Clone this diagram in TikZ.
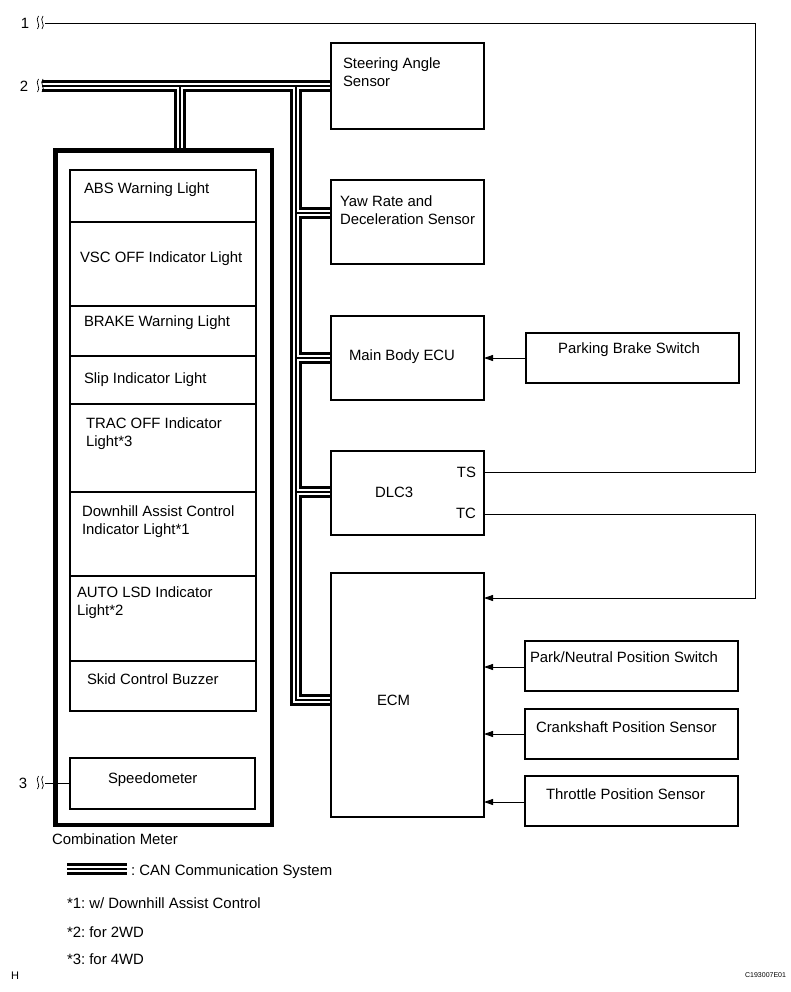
\documentclass[tikz,border=0pt]{standalone}
\usepackage{fontspec}
\setmainfont{Liberation Sans}
\usetikzlibrary{arrows.meta}
\frenchspacing
\begin{document}
\frenchspacing
\begin{tikzpicture}[x=1pt,y=-1pt,
  box/.style={draw, line width=1.3, inner sep=0, outer sep=0, anchor=north west},
  txt/.style={font=\fontsize{14.9}{17}\selectfont, inner sep=0, outer sep=0, text height=10.6pt, text depth=0pt, anchor=west},
  rtxt/.style={txt, anchor=east},
  wire/.style={line width=0.9},
  arr/.style={line width=0.9, -{Triangle[length=9pt,width=6pt]}},
  can/.style={line width=1.2, line join=miter, preaction={draw, black, line width=12}, preaction={draw, white, line width=6.5}},
  wavy/.style={line width=0.7}
]
\useasboundingbox[fill=white] (0,0) rectangle (791,992);

% ---------- CAN bus ----------
\coordinate (b2) at (42,86);
\coordinate (jm) at (180,86);
\coordinate (jt) at (296,86);
\coordinate (jy) at (296,213);
\coordinate (jb) at (296,358);
\coordinate (jd) at (296,492);
\coordinate (je) at (296,700);
\coordinate (cmtop) at (180,150);
\coordinate (legA) at (67,869);
\coordinate (legB) at (127,869);

% ---------- boxes ----------
\node[box, minimum width=153, minimum height=86] (sas) at (331,43) {};
\node[box, minimum width=153, minimum height=84] (yaw) at (331,180) {};
\node[box, minimum width=153, minimum height=84] (mbe) at (331,316) {};
\node[box, minimum width=153, minimum height=84] (dlc) at (331,451) {};
\node[box, minimum width=153, minimum height=244] (ecm) at (331,573) {};
\node[box, minimum width=213, minimum height=50] (pbs) at (526,333) {};
\node[box, minimum width=213, minimum height=50] (pns) at (525,641) {};
\node[box, minimum width=213, minimum height=50] (cps) at (525,709) {};
\node[box, minimum width=213, minimum height=50] (tps) at (525,776) {};

% bus
\draw[can] (b2) -- (b2 -| sas.west)
  (jm) -- (cmtop)
  (jt) -- (je) -- (je -| ecm.west)
  (jy) -- (jy -| yaw.west)
  (jb) -- (jb -| mbe.west)
  (jd) -- (jd -| dlc.west);
\draw[can] (legA) -- (legB);

% redraw box outlines over bus ends
\foreach \n in {sas,yaw,mbe,dlc,ecm} {\draw[line width=1.3] (\n.north west) rectangle (\n.south east);}

% ---------- combination meter ----------
\node[draw, line width=4.5, inner sep=0, outer sep=0, anchor=north west, minimum width=216.7, minimum height=674.5] (cm) at (55.3,150.5) {};
\node[box, minimum width=186, minimum height=52] (l1) at (70,170) {};
\node[box, minimum width=186, minimum height=84] (l2) at (70,222) {};
\node[box, minimum width=186, minimum height=50] (l3) at (70,306) {};
\node[box, minimum width=186, minimum height=48] (l4) at (70,356) {};
\node[box, minimum width=186, minimum height=88] (l5) at (70,404) {};
\node[box, minimum width=186, minimum height=84] (l6) at (70,492) {};
\node[box, minimum width=186, minimum height=85] (l7) at (70,576) {};
\node[box, minimum width=186, minimum height=50] (l8) at (70,661) {};
\node[box, minimum width=185, minimum height=51] (spd) at (70,758) {};

\node[txt] (t1) at (84,188) {ABS Warning Light};
\node[txt] (t2) at (80,257) {VSC OFF Indicator Light};
\node[txt] (t3) at (84,321) {BRAKE Warning Light};
\node[txt] (t4) at (84,378) {Slip Indicator Light};
\node[txt] (t5a) at (86,423) {TRAC OFF Indicator};
\node[txt] (t5b) at (86,441) {Light*3};
\node[txt] (t6a) at (82,511) {Downhill Assist Control};
\node[txt] (t6b) at (82,529) {Indicator Light*1};
\node[txt] (t7a) at (77,592) {AUTO LSD Indicator};
\node[txt] (t7b) at (77,610) {Light*2};
\node[txt] (t8) at (87,679) {Skid Control Buzzer};
\node[txt] (t9) at (108,778) {Speedometer};
\node[txt] (cmname) at (52,839) {Combination Meter};

% ---------- right column texts ----------
\node[txt] (sasa) at (343,63) {Steering Angle};
\node[txt] (sasb) at (343,81) {Sensor};
\node[txt] (yawa) at (340,201) {Yaw Rate and};
\node[txt] (yawb) at (340,219) {Deceleration Sensor};
\node[txt] (mbet) at (349,355) {Main Body ECU};
\node[txt] (dlct) at (375,492) {DLC3};
\node[rtxt] (ts) at (476,472) {TS};
\node[rtxt] (tc) at (476,513) {TC};
\node[txt] (ecmt) at (377,700) {ECM};
\node[txt, anchor=center] (pbst) at (629,348) {Parking Brake Switch};
\node[txt] (pnst) at (530,657) {Park/Neutral Position Switch};
\node[txt] (cpst) at (536,727) {Crankshaft Position Sensor};
\node[txt] (tpst) at (546,794) {Throttle Position Sensor};

% ---------- arrows ----------
\draw[arr] (pbs.west |- 0,358) -- (mbe.east |- 0,358);
\draw[arr] (pns.west |- 0,667) -- (ecm.east |- 0,667);
\draw[arr] (cps.west |- 0,734) -- (ecm.east |- 0,734);
\draw[arr] (tps.west |- 0,802) -- (ecm.east |- 0,802);

% TC -> ECM
\coordinate (tcr) at (755,514);
\draw[arr] (dlc.east |- tcr) -- (tcr) -- (755,598) -- (ecm.east |- 0,598);

% ---------- external lines 1,2,3 ----------
\node[txt, anchor=center] (n1) at (25,23) {1};
\node[txt, anchor=center] (n2) at (24,86) {2};
\node[txt, anchor=center] (n3) at (23,783) {3};
\coordinate (w1) at (45,23);
\coordinate (w3) at (45,783);
\coordinate (c1) at (755,23);
\draw[wire] (w1) -- (c1) |- (dlc.east |- 0,472);
\draw[wire] (w3) -- (spd.west |- w3);

\foreach \y in {23,86,783} {
  \draw[wavy] (38.5,\y-7) .. controls (34.5,\y-3) and (41.5,\y+2) .. (37.5,\y+6);
  \draw[wavy] (43,\y-7) .. controls (39,\y-3) and (46,\y+2) .. (42,\y+6);
}

% ---------- legend ----------
\node[txt] (legt) at (131,870) {: CAN Communication System};
\node[txt] (f1) at (67,903) {*1: w/ Downhill Assist Control};
\node[txt] (f2) at (67,932) {*2: for 2WD};
\node[txt] (f3) at (67,959) {*3: for 4WD};
\node[txt, font=\fontsize{11}{13}\selectfont, text height=8pt] (hh) at (11,975) {H};
\node[txt, anchor=east, font=\fontsize{7}{9}\selectfont, text height=5pt] (code) at (786,975) {C193007E01};
\end{tikzpicture}
\end{document}
